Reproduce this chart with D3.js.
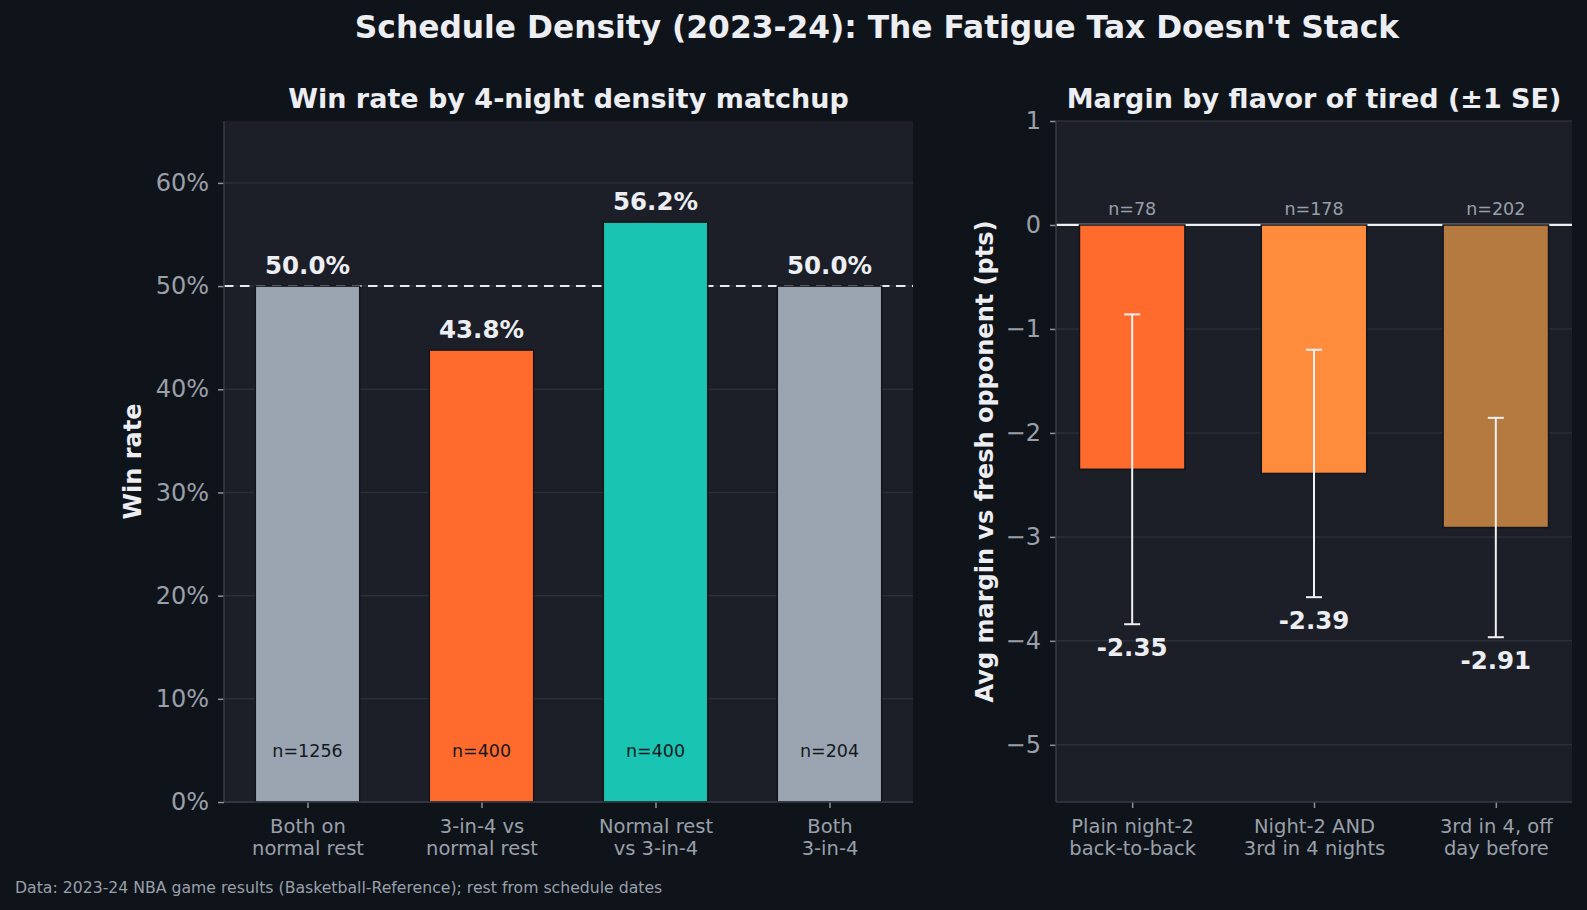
<!DOCTYPE html>
<html>
<head>
<meta charset="utf-8">
<script src="https://cdn.jsdelivr.net/npm/d3@7"></script>
<style>
  body { margin: 0; background: #0f131a; }
  svg { display: block; }
  text { font-family: "DejaVu Sans", sans-serif; }
</style>
</head>
<body>
<svg id="chart" width="1587" height="910"></svg>
<script>
// Left panel: win rate by density matchup
const matchups = [["Both on", "normal rest"], ["3-in-4 vs", "normal rest"], ["Normal rest", "vs 3-in-4"], ["Both", "3-in-4"]];
const win_rates = [0.500, 0.438, 0.562, 0.500];
const win_labels = ["50.0%", "43.8%", "56.2%", "50.0%"];
const win_counts = [1256, 400, 400, 204];
const win_colors = ["#9ba5b1", "#ff6b2d", "#19c4b2", "#9ba5b1"];
const win_ticks = [0, 0.1, 0.2, 0.3, 0.4, 0.5, 0.6];

// Right panel: margin by flavor of tired
const flavors = [["Plain night-2", "back-to-back"], ["Night-2 AND", "3rd in 4 nights"], ["3rd in 4, off", "day before"]];
const margins = [-2.35, -2.39, -2.91];
const margin_se = [1.49, 1.19, 1.055];
const margin_counts = [78, 178, 202];
const margin_colors = ["#ff6b2d", "#ff8b3d", "#b57a40"];
const margin_ticks = [1, 0, -1, -2, -3, -4, -5];

const svg = d3.select("#chart");
const grid_color = "#2b2f3a";
const spine_color = "#363b47";
const tick_color = "#8d939d";
const tick_text = "#9aa0aa";

// Figure titles and footnote
svg.append("text")
    .attr("x", 877).attr("y", 38)
    .attr("text-anchor", "middle")
    .attr("font-size", 31.3).attr("font-weight", "bold")
    .attr("fill", "#eceef2")
    .text("Schedule Density (2023-24): The Fatigue Tax Doesn't Stack");

svg.append("text")
    .attr("x", 15).attr("y", 893)
    .attr("font-size", 15.7)
    .attr("fill", "#9aa0aa")
    .text("Data: 2023-24 NBA game results (Basketball-Reference); rest from schedule dates");

function draw_panel(opts) {
    const g = svg.append("g");
    const left = opts.left, right = opts.right, top = 121, bottom = 802;

    g.append("rect")
        .attr("x", left).attr("y", top)
        .attr("width", right - left).attr("height", bottom - top)
        .attr("fill", "#1c1f27");

    const n = opts.values.length;
    const pad = 0.05 * (n - 1 + opts.bar_width);
    const x = d3.scaleLinear()
        .domain([-opts.bar_width / 2 - pad, n - 1 + opts.bar_width / 2 + pad])
        .range([left, right]);
    const y = d3.scaleLinear().domain(opts.y_domain).range([bottom, top]);

    // Gridlines
    g.selectAll(".grid")
        .data(opts.ticks)
        .enter()
        .append("line")
            .attr("x1", left).attr("x2", right)
            .attr("y1", d => y(d)).attr("y2", d => y(d))
            .attr("stroke", grid_color)
            .attr("stroke-width", 1.5);

    if (opts.before_bars) opts.before_bars(g, x, y);

    // Bars
    g.selectAll(".bar")
        .data(opts.values)
        .enter()
        .append("rect")
            .attr("x", (d, i) => x(i - opts.bar_width / 2))
            .attr("width", x(opts.bar_width) - x(0))
            .attr("y", d => y(Math.max(0, d)))
            .attr("height", d => Math.abs(y(d) - y(0)))
            .attr("fill", (d, i) => opts.colors[i])
            .attr("stroke", "#12151b")
            .attr("stroke-width", 1.5);

    if (opts.after_bars) opts.after_bars(g, x, y);

    // Y axis
    const y_axis = g.append("g")
        .attr("transform", `translate(${left},0)`)
        .call(d3.axisLeft(y).tickValues(opts.ticks).tickFormat(opts.tick_format).tickSize(6).tickPadding(9));
    y_axis.select(".domain").remove();
    y_axis.selectAll(".tick line").attr("stroke", tick_color).attr("stroke-width", 1.5);
    y_axis.selectAll(".tick text")
        .attr("fill", tick_text)
        .attr("font-size", 24)
        .attr("font-family", "DejaVu Sans");

    // X axis
    const x_axis = g.append("g")
        .attr("transform", `translate(0,${bottom})`)
        .call(d3.axisBottom(x).tickValues(d3.range(n)).tickFormat("").tickSize(6));
    x_axis.select(".domain").remove();
    x_axis.selectAll(".tick line").attr("stroke", tick_color).attr("stroke-width", 1.5);
    x_axis.selectAll(".tick")
        .append("text")
            .attr("text-anchor", "middle")
            .attr("fill", tick_text)
            .attr("font-size", 19.5)
            .attr("font-family", "DejaVu Sans")
            .selectAll("tspan")
            .data(d => opts.categories[d])
            .enter()
            .append("tspan")
                .attr("x", 0)
                .attr("y", (d, i) => 31 + i * 22)
                .text(d => d);

    // Spines (left and bottom)
    g.append("line")
        .attr("x1", left).attr("x2", left).attr("y1", top).attr("y2", bottom)
        .attr("stroke", spine_color).attr("stroke-width", 1.5);
    g.append("line")
        .attr("x1", left).attr("x2", right).attr("y1", bottom).attr("y2", bottom)
        .attr("stroke", spine_color).attr("stroke-width", 1.5);

    // Subtitle
    g.append("text")
        .attr("x", (left + right) / 2).attr("y", 108)
        .attr("text-anchor", "middle")
        .attr("font-size", 27).attr("font-weight", "bold")
        .attr("fill", "#eceef2")
        .text(opts.title);

    // Y label
    g.append("text")
        .attr("transform", `translate(${opts.ylabel_x},${(top + bottom) / 2}) rotate(-90)`)
        .attr("text-anchor", "middle")
        .attr("font-size", 24).attr("font-weight", "bold")
        .attr("fill", "#eceef2")
        .text(opts.ylabel);
}

draw_panel({
    left: 224, right: 913,
    values: win_rates,
    colors: win_colors,
    categories: matchups,
    bar_width: 0.6,
    y_domain: [0, 0.66],
    ticks: win_ticks,
    tick_format: d => Math.round(d * 100) + "%",
    title: "Win rate by 4-night density matchup",
    ylabel: "Win rate",
    ylabel_x: 141,
    before_bars: function(g, x, y) {
        // Coin-flip reference line
        g.append("line")
            .attr("x1", 224).attr("x2", 913)
            .attr("y1", y(0.5)).attr("y2", y(0.5))
            .attr("stroke", "#e6e8ec")
            .attr("stroke-width", 2)
            .attr("stroke-dasharray", "9.5,6.5");
    },
    after_bars: function(g, x, y) {
        g.selectAll(".val")
            .data(win_rates)
            .enter()
            .append("text")
                .attr("x", (d, i) => x(i))
                .attr("y", d => y(d) - 12)
                .attr("text-anchor", "middle")
                .attr("font-size", 24.5).attr("font-weight", "bold")
                .attr("fill", "#eceef2")
                .text((d, i) => win_labels[i]);
        g.selectAll(".cnt")
            .data(win_counts)
            .enter()
            .append("text")
                .attr("x", (d, i) => x(i))
                .attr("y", y(0.05))
                .attr("dy", "0.35em")
                .attr("text-anchor", "middle")
                .attr("font-size", 17.5)
                .attr("fill", "#15181e")
                .text(d => "n=" + d);
    }
});

draw_panel({
    left: 1056, right: 1572,
    values: margins,
    colors: margin_colors,
    categories: flavors,
    bar_width: 0.58,
    y_domain: [-5.55, 1],
    ticks: margin_ticks,
    tick_format: d => d < 0 ? "\u2212" + Math.abs(d) : String(d),
    title: "Margin by flavor of tired (\u00b11 SE)",
    ylabel: "Avg margin vs fresh opponent (pts)",
    ylabel_x: 993,
    before_bars: function(g, x, y) {
        g.append("line")
            .attr("x1", 1056).attr("x2", 1572)
            .attr("y1", y(0)).attr("y2", y(0))
            .attr("stroke", "#eef0f3")
            .attr("stroke-width", 2.3);
    },
    after_bars: function(g, x, y) {
        const err = g.selectAll(".err")
            .data(margins)
            .enter()
            .append("g")
                .attr("stroke", "#eef0f3")
                .attr("stroke-width", 2);
        err.append("line")
            .attr("x1", (d, i) => x(i)).attr("x2", (d, i) => x(i))
            .attr("y1", (d, i) => y(d + margin_se[i]))
            .attr("y2", (d, i) => y(d - margin_se[i]));
        err.append("line")
            .attr("x1", (d, i) => x(i) - 8).attr("x2", (d, i) => x(i) + 8)
            .attr("y1", (d, i) => y(d + margin_se[i]))
            .attr("y2", (d, i) => y(d + margin_se[i]));
        err.append("line")
            .attr("x1", (d, i) => x(i) - 8).attr("x2", (d, i) => x(i) + 8)
            .attr("y1", (d, i) => y(d - margin_se[i]))
            .attr("y2", (d, i) => y(d - margin_se[i]));

        g.selectAll(".val")
            .data(margins)
            .enter()
            .append("text")
                .attr("x", (d, i) => x(i))
                .attr("y", (d, i) => y(d - margin_se[i]) + 32)
                .attr("text-anchor", "middle")
                .attr("font-size", 24.5).attr("font-weight", "bold")
                .attr("fill", "#eceef2")
                .text(d => d.toFixed(2));

        g.selectAll(".cnt")
            .data(margin_counts)
            .enter()
            .append("text")
                .attr("x", (d, i) => x(i))
                .attr("y", y(0.1))
                .attr("text-anchor", "middle")
                .attr("font-size", 17.5)
                .attr("fill", "#9aa0aa")
                .text(d => "n=" + d);
    }
});
</script>
</body>
</html>
